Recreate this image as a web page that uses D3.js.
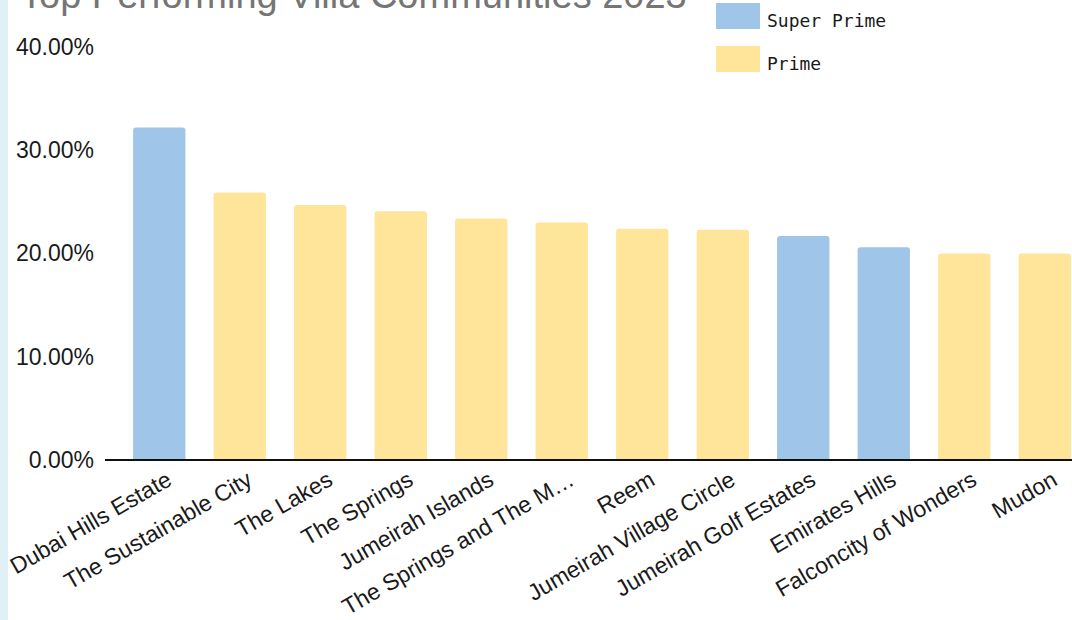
<!DOCTYPE html>
<html>
<head>
<meta charset="utf-8">
<script src="https://cdn.jsdelivr.net/npm/d3@7"></script>
<style>
  html, body { margin: 0; padding: 0; background: #fff; }
  svg { display: block; }
</style>
</head>
<body>
<svg id="chart" width="1072" height="620"></svg>
<script>
const title = "Top Performing Villa Communities 2023";
const categories = ["Dubai Hills Estate", "The Sustainable City", "The Lakes", "The Springs", "Jumeirah Islands", "The Springs and The M…", "Reem", "Jumeirah Village Circle", "Jumeirah Golf Estates", "Emirates Hills", "Falconcity of Wonders", "Mudon"];
const values = [0.322, 0.259, 0.247, 0.241, 0.234, 0.230, 0.224, 0.223, 0.217, 0.206, 0.200, 0.200];
const segments = ["Super Prime", "Prime", "Prime", "Prime", "Prime", "Prime", "Prime", "Prime", "Super Prime", "Super Prime", "Prime", "Prime"];
const seriesNames = ["Super Prime", "Prime"];
const seriesColors = ["#9fc5e8", "#ffe599"];
const yTicks = [0, 0.1, 0.2, 0.3, 0.4];

const svg = d3.select("#chart");

// left strip
svg.append("rect").attr("x", 0).attr("y", 0).attr("width", 8).attr("height", 620).attr("fill", "#dff0f6");

// title (partially cut off at top, as in the reference)
svg.append("text").attr("x", 20).attr("y", 8)
  .attr("font-family", "Liberation Sans, Arial, sans-serif")
  .attr("font-size", 38).attr("fill", "#757575")
  .text(title);

const x = d3.scaleBand().domain(categories).range([119, 1085]).paddingInner(0.35).paddingOuter(0.175);
const y = d3.scaleLinear().domain([0, 0.4]).range([460, 47]);
const color = d3.scaleOrdinal().domain(seriesNames).range(seriesColors);

// y axis labels
const yAxis = d3.axisLeft(y).tickValues(yTicks).tickFormat(d3.format(".2%")).tickSize(0).tickPadding(0);
const gy = svg.append("g").attr("transform", "translate(94,0)").call(yAxis);
gy.select(".domain").remove();
gy.selectAll("text").attr("font-family", "Liberation Sans, Arial, sans-serif").attr("font-size", 23).attr("fill", "#1a1a1a");

// bars with rounded tops
const r = 3;
svg.append("g").selectAll("path").data(categories).join("path")
  .attr("fill", (d, i) => color(segments[i]))
  .attr("d", (d, i) => {
    const x0 = x(d), w = x.bandwidth(), y0 = y(values[i]), yb = y(0);
    return `M${x0},${yb} L${x0},${y0 + r} Q${x0},${y0} ${x0 + r},${y0} L${x0 + w - r},${y0} Q${x0 + w},${y0} ${x0 + w},${y0 + r} L${x0 + w},${yb} Z`;
  });

// baseline
svg.append("line").attr("x1", 105).attr("x2", 1072).attr("y1", y(0)).attr("y2", y(0))
  .attr("stroke", "#111").attr("stroke-width", 2);

// x labels
const xAxis = d3.axisBottom(x).tickSize(0).tickPadding(0);
const gx = svg.append("g").attr("transform", `translate(0,${y(0)})`).call(xAxis);
gx.select(".domain").remove();
gx.selectAll(".tick text")
  .attr("font-family", "Liberation Sans, Arial, sans-serif")
  .attr("font-size", 23).attr("fill", "#1a1a1a")
  .attr("text-anchor", "end")
  .attr("dy", 0).attr("y", 0).attr("x", 0)
  .attr("transform", "translate(14,24) rotate(-30)");

// legend
const lg = svg.append("g");
seriesNames.forEach((s, i) => {
  lg.append("rect").attr("x", 716).attr("y", 3 + i * 43).attr("width", 44).attr("height", 26).attr("fill", color(s));
  lg.append("text").attr("x", 767).attr("y", 27 + i * 43)
    .attr("font-family", "DejaVu Sans Mono, monospace").attr("font-size", 18).attr("fill", "#1a1a1a")
    .text(s);
});
</script>
</body>
</html>
